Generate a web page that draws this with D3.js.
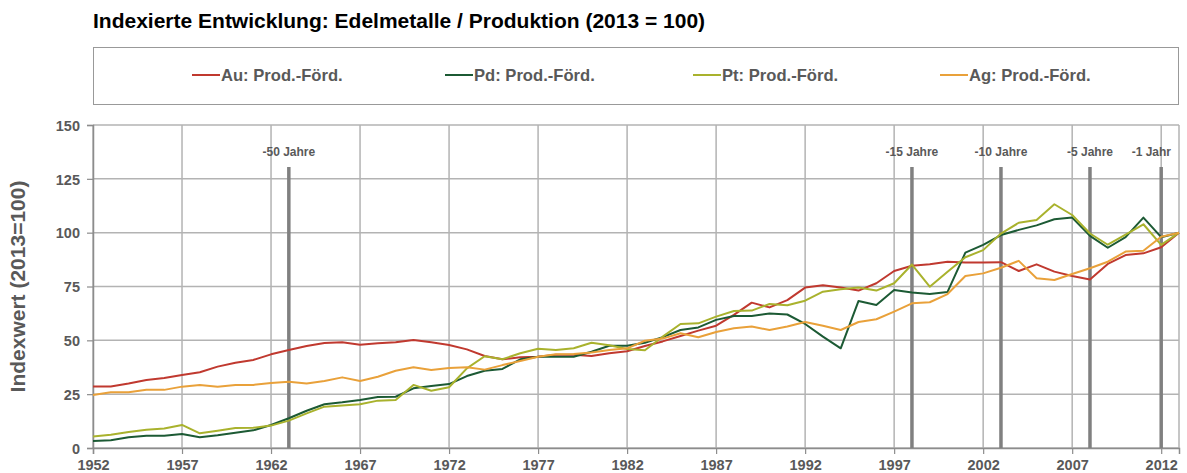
<!DOCTYPE html>
<html lang="de">
<head>
    <meta charset="UTF-8">
    <title>Indexierte Entwicklung</title>
    <style>
        body { margin: 0; background: #fff; font-family: "Liberation Sans", Arial, sans-serif; }
        .grid line { stroke: #b3b3b3; stroke-width: 1.5px; }
        .series path { fill: none; stroke-width: 2px; stroke-linejoin: round; }
        .tick-label { font-weight: bold; font-size: 14.5px; fill: #595959; }
    </style>
</head>
<body>
    <script src="https://cdn.jsdelivr.net/npm/d3@7/dist/d3.min.js"></script>
    <script>
        var width = 1187;
        var height = 473;

        // Jahre 1952 - 2013
        var years = d3.range(1952, 2014);

        var au = [28.6, 28.6, 30.0, 31.6, 32.5, 33.9, 35.2, 37.8, 39.6, 40.9,
                  43.5, 45.5, 47.4, 48.8, 49.1, 48.0, 48.6, 49.1, 50.2, 49.1,
                  47.8, 45.8, 42.7, 41.2, 42.1, 42.4, 43.3, 43.3, 42.7, 44.0,
                  44.9, 47.4, 49.5, 52.0, 54.5, 56.8, 61.8, 67.5, 65.3, 68.7,
                  74.5, 75.6, 74.5, 73.1, 76.5, 82.2, 84.6, 85.3, 86.5, 86.2,
                  86.2, 86.3, 82.2, 85.3, 81.9, 79.9, 78.3, 85.5, 89.6, 90.4,
                  93.2, 100];
        var pd = [3.3, 3.6, 5.0, 5.7, 5.7, 6.5, 5.0, 5.9, 7.1, 8.2,
                  10.7, 13.8, 17.3, 20.3, 21.2, 22.3, 23.7, 23.8, 27.7, 28.8,
                  29.7, 33.4, 35.9, 36.7, 41.2, 42.4, 42.4, 42.4, 44.7, 47.5,
                  47.5, 48.9, 51.5, 54.8, 56.0, 59.5, 61.3, 61.3, 62.5, 62.0,
                  57.6, 51.7, 46.3, 68.3, 66.4, 73.4, 72.2, 71.5, 72.5, 90.7,
                  94.3, 98.9, 101.3, 103.4, 106.2, 107.0, 98.5, 93.0, 97.9, 107.0,
                  97.9, 100];
        var pt = [5.3, 6.2, 7.4, 8.5, 9.1, 10.7, 6.8, 8.0, 9.3, 9.4,
                  10.4, 12.7, 16.1, 19.2, 19.7, 20.3, 22.0, 22.3, 29.3, 26.6,
                  28.2, 37.0, 42.6, 41.2, 44.0, 46.1, 45.5, 46.3, 48.9, 47.7,
                  46.0, 45.4, 51.7, 57.6, 57.9, 61.0, 63.6, 63.8, 66.9, 66.3,
                  68.4, 72.6, 73.7, 74.5, 73.1, 76.5, 85.2, 74.9, 81.9, 88.6,
                  91.9, 99.6, 104.6, 105.9, 113.2, 108.2, 99.6, 94.4, 99.1, 103.9,
                  94.3, 100];
        var ag = [24.6, 25.9, 25.9, 27.1, 27.0, 28.5, 29.3, 28.5, 29.3, 29.3,
                  30.2, 30.8, 30.0, 31.1, 32.8, 31.1, 33.1, 35.9, 37.5, 36.2,
                  37.2, 37.5, 36.4, 38.5, 40.4, 42.4, 43.5, 43.6, 44.3, 45.5,
                  46.3, 49.8, 50.8, 53.3, 51.4, 53.9, 55.6, 56.4, 54.8, 56.4,
                  58.5, 56.8, 54.8, 58.5, 59.8, 63.3, 67.2, 67.7, 71.5, 79.9,
                  81.1, 83.7, 86.9, 78.8, 78.0, 80.8, 83.5, 86.5, 91.2, 91.6,
                  98.1, 100];

        var seriesNames = ["Au: Prod.-Förd.", "Pd: Prod.-Förd.", "Pt: Prod.-Förd.", "Ag: Prod.-Förd."];
        var seriesColors = ["#c0392f", "#1c5a34", "#a9b22d", "#e9a13a"];
        var seriesValues = [au, pd, pt, ag];

        var xTickYears = [1952, 1957, 1962, 1967, 1972, 1977, 1982, 1987, 1992, 1997, 2002, 2007, 2012];
        var yTicks = [0, 25, 50, 75, 100, 125, 150];

        var markerYears = [1963, 1998, 2003, 2008, 2012];
        var markerLabels = ["-50 Jahre", "-15 Jahre", "-10 Jahre", "-5 Jahre", "-1 Jahr"];

        var margin = { left: 93, right: 8, top: 125, bottom: 25 };
        var plotW = width - margin.left - margin.right;
        var plotH = height - margin.top - margin.bottom;

        var svg = d3.select("body")
                    .append("svg")
                    .attr("width", width)
                    .attr("height", height);

        var x = d3.scaleLinear().domain([1952, 2013]).range([margin.left, margin.left + plotW]);
        var y = d3.scaleLinear().domain([0, 150]).range([margin.top + plotH, margin.top]);

        // Titel
        svg.append("text")
            .attr("x", 93)
            .attr("y", 28)
            .attr("font-size", "21px")
            .attr("font-weight", "bold")
            .attr("fill", "#000")
            .text("Indexierte Entwicklung: Edelmetalle / Produktion (2013 = 100)");

        // Legende
        svg.append("rect")
            .attr("x", 93.5)
            .attr("y", 47.5)
            .attr("width", 1085)
            .attr("height", 57)
            .attr("fill", "#fff")
            .attr("stroke", "#999")
            .attr("stroke-width", 1);

        var legendX = [192, 445, 693, 940];
        var legend = svg.append("g")
                    .selectAll("g")
                    .data(seriesNames)
                    .enter()
                    .append("g")
                    .attr("transform", function(d, i) { return "translate(" + legendX[i] + ",75)"; });
        legend.append("line")
            .attr("x1", 0).attr("x2", 28)
            .attr("stroke", function(d, i) { return seriesColors[i]; })
            .attr("stroke-width", 2);
        legend.append("text")
            .attr("x", 29)
            .attr("y", 6)
            .attr("font-size", "16.6px")
            .attr("font-weight", "bold")
            .attr("fill", "#595959")
            .text(function(d) { return d; });

        // Gitter
        var grid = svg.append("g").attr("class", "grid");
        grid.selectAll("line.h")
            .data(yTicks)
            .enter()
            .append("line")
            .attr("x1", margin.left)
            .attr("x2", margin.left + plotW)
            .attr("y1", function(d) { return y(d); })
            .attr("y2", function(d) { return y(d); });
        grid.selectAll("line.v")
            .data(xTickYears.concat([2013]))
            .enter()
            .append("line")
            .attr("class", "v")
            .attr("x1", function(d) { return x(d); })
            .attr("x2", function(d) { return x(d); })
            .attr("y1", y(0))
            .attr("y2", y(150));

        // Achsen
        var yAxis = d3.axisLeft(y).tickValues(yTicks).tickSize(6).tickFormat(d3.format("d"));
        var yMinor = d3.axisLeft(y).tickValues(d3.range(0, 151, 5)).tickSize(3).tickFormat("");
        var xAxis = d3.axisBottom(x).tickValues(xTickYears).tickSize(6).tickFormat(d3.format("d"));
        var xMinor = d3.axisBottom(x).tickValues(years).tickSize(4).tickFormat("");

        var gy = svg.append("g").attr("transform", "translate(" + margin.left + ",0)");
        gy.call(yMinor);
        gy.call(yAxis);
        var gx = svg.append("g").attr("transform", "translate(0," + y(0) + ")");
        gx.call(xMinor);
        gx.call(xAxis);

        svg.selectAll(".domain").attr("stroke", "#8c8c8c").attr("stroke-width", 1.5);
        svg.selectAll(".tick line").attr("stroke", "#8c8c8c").attr("stroke-width", 1.2);
        gy.selectAll(".tick text").attr("class", "tick-label").attr("x", -13).attr("dy", "0.36em");
        gx.selectAll(".tick text").attr("class", "tick-label").attr("y", 12).attr("dy", "0.71em");
        svg.selectAll(".tick text").attr("font-family", null).attr("font-size", null);

        // Y-Achsentitel
        svg.append("text")
            .attr("transform", "translate(25," + y(75) + ") rotate(-90)")
            .attr("text-anchor", "middle")
            .attr("font-size", "21px")
            .attr("font-weight", "bold")
            .attr("fill", "#595959")
            .text("Indexwert (2013=100)");

        // Markierungen (Jahre zurück)
        var marker = svg.append("g")
                    .selectAll("g")
                    .data(markerYears)
                    .enter()
                    .append("g");
        marker.append("line")
            .attr("x1", function(d) { return x(d); })
            .attr("x2", function(d) { return x(d); })
            .attr("y1", 167)
            .attr("y2", y(0))
            .attr("stroke", "#808080")
            .attr("stroke-width", 3.5);
        marker.append("text")
            .attr("x", function(d) { return x(d); })
            .attr("y", 156)
            .attr("text-anchor", "middle")
            .attr("font-size", "12px")
            .attr("font-weight", "bold")
            .attr("fill", "#595959")
            .text(function(d, i) { return markerLabels[i]; })
            .each(function() {
                // nicht über den rechten Rand hinaus
                var w = this.getComputedTextLength();
                var cx = +d3.select(this).attr("x");
                var maxX = margin.left + plotW - 8 - w / 2;
                if (cx > maxX) d3.select(this).attr("x", maxX);
            });

        // Linien
        var line = d3.line()
            .x(function(d, i) { return x(years[i]); })
            .y(function(d) { return y(d); });

        svg.append("g")
            .attr("class", "series")
            .selectAll("path")
            .data(seriesValues)
            .enter()
            .append("path")
            .attr("stroke", function(d, i) { return seriesColors[i]; })
            .attr("d", line);
    </script>
</body>
</html>
